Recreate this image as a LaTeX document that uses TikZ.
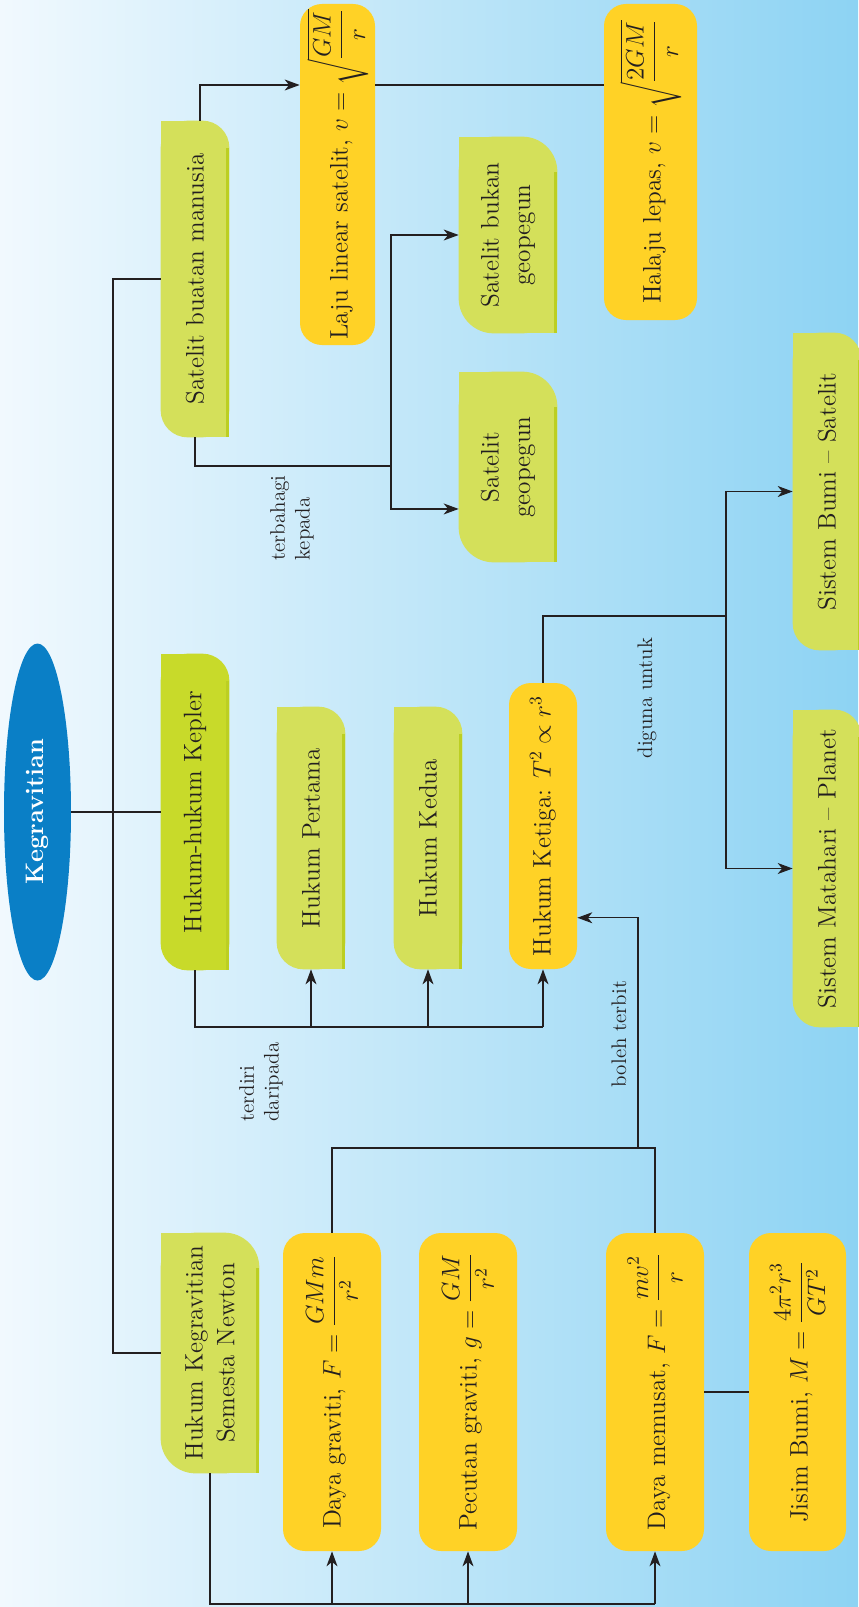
\documentclass[tikz,border=0pt]{standalone}
\usepackage{amsmath}
\usetikzlibrary{shapes.geometric,arrows.meta,calc}
\definecolor{inkgray}{HTML}{231F20}
\definecolor{leafgreen}{HTML}{D4E05A}
\definecolor{leafedge}{HTML}{BCCF22}
\definecolor{keplergreen}{HTML}{C8DA2A}
\definecolor{formulagold}{HTML}{FFD226}
\definecolor{titleblue}{HTML}{0A7FC6}
\definecolor{skywhite}{HTML}{F1F9FE}
\definecolor{skyblue}{HTML}{8DD3F3}
\pgfdeclarelayer{paper}
\pgfdeclarelayer{boxes}
\pgfsetlayers{paper,boxes,main}
\tikzset{
  every node/.style={text=inkgray},
  leaf/.style={rotate=90, align=center, inner sep=0pt, font=\Large},
  formula/.style={rotate=90, align=center, inner sep=0pt, font=\Large,
    fill=formulagold, rounded corners=4.4mm},
  headline/.style={ellipse, rotate=90, inner sep=0pt, fill=titleblue,
    text=white, font=\Large\bfseries},
  note/.style={rotate=90, align=left, inner sep=0pt, font=\large},
  conn/.style={draw=inkgray, line width=0.7pt},
  conn arrow/.style={conn, -{Stealth[length=3mm, width=2.2mm, inset=0.9mm]}},
}
\begin{document}
\begin{tikzpicture}[x=0.2mm, y=-0.2mm]
% Page frame, 858 x 1607 px
\useasboundingbox (0,0) rectangle (858,1607);
\begin{pgfonlayer}{paper}
  \shade[left color=skywhite, right color=skyblue] (0,0) rectangle (858,1607);
\end{pgfonlayer}

% Title
\node[headline, minimum width=67.4mm, minimum height=13.4mm] (kg) at (37.5,812) {Kegravitian};

% Satellites
\node[leaf, minimum width=63.2mm, minimum height=13.6mm] (sbm) at (195,279) {Satelit buatan manusia};
\node[formula, minimum width=68.2mm, minimum height=15mm] (laju) at (337.5,174.5) {Laju linear satelit, $v=\sqrt{\dfrac{GM}{r}}$};
\node[formula, minimum width=63.2mm, minimum height=18.6mm] (halaju) at (650.5,162) {Halaju lepas, $v=\sqrt{\dfrac{2GM}{r}}$};
\node[leaf, minimum width=39.2mm, minimum height=19.6mm] (bukan) at (508,235) {Satelit bukan\\geopegun};
\node[leaf, minimum width=38mm, minimum height=19.6mm] (geo) at (508,467) {Satelit\\geopegun};
\node[leaf, minimum width=63.4mm, minimum height=13.6mm] (bumi) at (827,491.5) {Sistem Bumi -- Satelit};
\node[leaf, minimum width=63.4mm, minimum height=13.6mm] (matahari) at (827,868.5) {Sistem Matahari -- Planet};

% Kepler
\node[leaf, minimum width=63.2mm, minimum height=13.6mm] (kepler) at (195,812) {Hukum-hukum Kepler};
\node[leaf, minimum width=52.4mm, minimum height=13.6mm] (pertama) at (311,838) {Hukum Pertama};
\node[leaf, minimum width=52.4mm, minimum height=13.6mm] (kedua) at (428,838) {Hukum Kedua};
\node[formula, minimum width=57.2mm, minimum height=13.6mm] (ketiga) at (543,826) {Hukum Ketiga: $T^2\propto r^3$};

% Newton
\node[leaf, minimum width=48mm, minimum height=19.6mm] (newton) at (210,1353) {Hukum Kegravitian\\Semesta Newton};
\node[formula, minimum width=63.6mm, minimum height=19.6mm] (graviti) at (332,1392) {Daya graviti, $F=\dfrac{GMm}{r^2}$};
\node[formula, minimum width=63.6mm, minimum height=19.6mm] (pecutan) at (468,1392) {Pecutan graviti, $g=\dfrac{GM}{r^2}$};
\node[formula, minimum width=63.6mm, minimum height=19.6mm] (memusat) at (655,1392) {Daya memusat, $F=\dfrac{mv^2}{r}$};
\node[formula, minimum width=63.6mm, minimum height=19.4mm] (jisim) at (797.5,1392) {Jisim Bumi, $M=\dfrac{4\pi^2r^3}{GT^2}$};

% Link words
\node[note] (lbahagi) at (292,518) {terbahagi\\kepada};
\node[note] (ldiri) at (261,1082) {terdiri\\daripada};
\node[note] (lterbit) at (619,1034) {boleh terbit};
\node[note] (lguna) at (647,698) {diguna untuk};

% Green boxes: round page top-right and bottom-left corners only
\begin{pgfonlayer}{boxes}
  \foreach \n/\r/\c in {sbm/5.4mm/leafgreen, bukan/7mm/leafgreen, geo/7mm/leafgreen,
                        bumi/5.4mm/leafgreen, matahari/5.4mm/leafgreen,
                        pertama/5.4mm/leafgreen, kedua/5.4mm/leafgreen,
                        newton/7mm/leafgreen, kepler/5.4mm/keplergreen} {
    \fill[\c, rounded corners=\r] (\n.north east) rectangle (\n.south west);
    \fill[\c] (\n.center) rectangle (\n.north east);
    \fill[\c] (\n.center) rectangle (\n.south west);
    % darker right rim
    \fill[leafedge] ([xshift=-0.7mm]\n.south west) rectangle ([yshift=-\r]\n.south east);
  }
\end{pgfonlayer}

% Trunk
\coordinate (trunk) at (113,812);
\draw[conn] (kg.south) -- (kepler.north);
\draw[conn] (sbm.north) -| (trunk) |- (newton.north);

% Satellite links
\coordinate (vlink) at (200,85);
\draw[conn arrow] (sbm.east -| vlink) |- (laju.north |- vlink);
\draw[conn] (laju.south |- vlink) -- (halaju.north |- vlink);
\coordinate (split) at (391,466);
\draw[conn] (sbm.west) |- (split);
\draw[conn arrow] (split) |- (bukan.north);
\draw[conn arrow] (split) |- ($(geo.north)!.44!(geo.north west)$);

% Kepler links
\coordinate (kbus) at (0,1027);
\draw[conn] (kepler.west) |- (ketiga.west |- kbus);
\foreach \n in {pertama, kedua, ketiga}
  \draw[conn arrow] (\n.west |- kbus) -- (\n.west);
\coordinate (dsplit) at (726,616);
\draw[conn] (ketiga.east) |- (dsplit);
\draw[conn arrow] (dsplit) |- (bumi.north);
\draw[conn arrow] (dsplit) |- (matahari.north);

% Newton links
\coordinate (nbus) at (0,1604);
\draw[conn] (newton.west) |- (memusat.west |- nbus);
\foreach \n in {graviti, pecutan, memusat}
  \draw[conn arrow] (\n.west |- nbus) -- (\n.west);
\coordinate (fbus) at (638,1148);
\draw[conn] (graviti.east) |- (memusat.east |- fbus) -- (memusat.east);
\draw[conn arrow] (fbus) |- ($(ketiga.south)!.64!(ketiga.south west)$);
\draw[conn] (memusat.south) -- (jisim.north);
\end{tikzpicture}
\end{document}
